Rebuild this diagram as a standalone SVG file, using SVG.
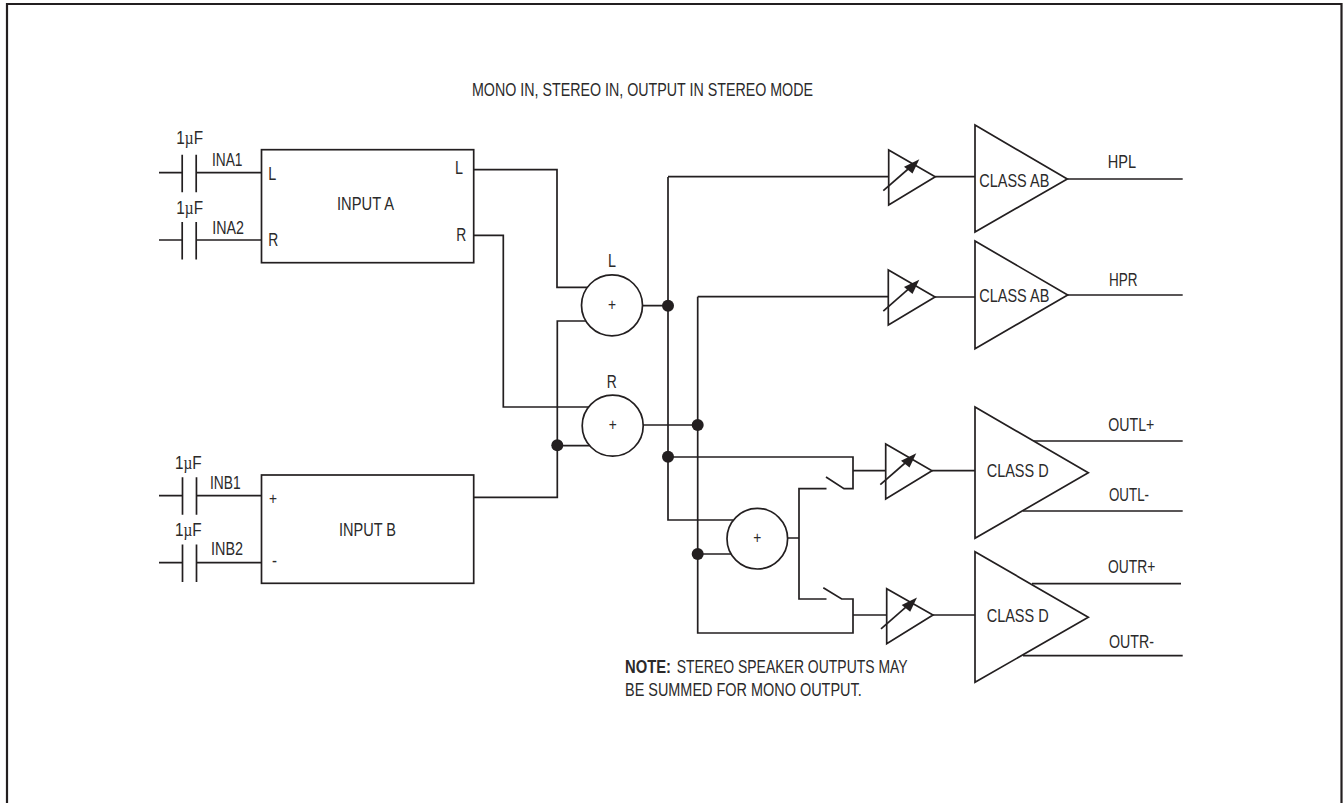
<svg xmlns="http://www.w3.org/2000/svg" width="1343" height="803" viewBox="0 0 1343 803">
<style>
text{font-family:"Liberation Sans",Arial,sans-serif;font-size:18px;fill:#2b2a2a}
.c{font-size:16px}
.w,.s{fill:none;stroke:#231f20;stroke-width:1.7;stroke-linejoin:miter}
.s{fill:#fff}
.d{fill:#231f20;stroke:none}
.p{font-family:"Liberation Serif",serif}
</style>
<defs>
<g id="gain"><path class="d" d="M919.3 159.3L904 166.7L912.5 173.5Z"/><path class="w" d="M883.3 190.7L915 163"/></g>
<g id="cap"><path class="w" d="M182.2 0V37.5M196.2 0V37.5"/></g>
</defs>
<path id="frame" d="M7 803V4H1341.5V803" fill="none" stroke="#231f20" stroke-width="2.2"/>
<g id="title"><text x="472" y="95.5" textLength="341" lengthAdjust="spacingAndGlyphs">MONO IN, STEREO IN, OUTPUT IN STEREO MODE</text></g>
<g id="connectors">
<path class="w" d="M159 172.7H182M196 172.7H261.5M159 240H182M196 240H261.5M159 495.7H182M196 495.7H261.5M159 562.7H182M196 562.7H261.5"/>
<path class="w" d="M473.7 169.7H557V287.3H588M473.7 235.3H503.3V407H591"/>
<path class="w" d="M473.7 497.3H557.3V321H588M557.3 445.7H591"/>
<path class="w" d="M642.5 305.7H668M668 177V520H733M668 176.7H888.7"/>
<path class="w" d="M643 425H697.7M697.7 296.7V633H853V599H841.7L823.3 587.7M697.7 296.7H888.3M697.7 554H731"/>
<path class="w" d="M668 457H853V488.7H844L826 477M853 470.7H885.7"/>
<path class="w" d="M788 538H799M826.5 488.7H799V599H826.5M853 615H886.7"/>
<path class="w" d="M935.3 176.7H975M935 297H975M932 470.7H975M933 615H975"/>
<path class="w" d="M1067.3 179H1182.7M1067.7 295H1182.7M1033 441H1182.7M1023 511H1182.7M1032 583.7H1181M1023 655.7H1182.7"/>
<circle class="d" cx="668" cy="305.7" r="6"/>
<circle class="d" cx="697.7" cy="425" r="6"/>
<circle class="d" cx="557.3" cy="445.3" r="6"/>
<circle class="d" cx="668" cy="456.7" r="6"/>
<circle class="d" cx="697.7" cy="554" r="6"/>
</g>
<g id="cap-ina1"><use href="#cap" y="154.7"/><text x="176.3" y="144" textLength="26.7" lengthAdjust="spacingAndGlyphs">1<tspan class="p">µ</tspan>F</text><text x="212" y="166" textLength="30.5" lengthAdjust="spacingAndGlyphs">INA1</text></g>
<g id="cap-ina2"><use href="#cap" y="222"/><text x="176.3" y="214" textLength="26.7" lengthAdjust="spacingAndGlyphs">1<tspan class="p">µ</tspan>F</text><text x="212.3" y="233.5" textLength="31.7" lengthAdjust="spacingAndGlyphs">INA2</text></g>
<g id="cap-inb1"><use href="#cap" y="477.3" x="0.3"/><text x="175" y="468.5" textLength="26.7" lengthAdjust="spacingAndGlyphs">1<tspan class="p">µ</tspan>F</text><text x="210" y="488.5" textLength="30.7" lengthAdjust="spacingAndGlyphs">INB1</text></g>
<g id="cap-inb2"><use href="#cap" y="544.5" x="0.3"/><text x="175" y="536" textLength="26.7" lengthAdjust="spacingAndGlyphs">1<tspan class="p">µ</tspan>F</text><text x="211" y="554.5" textLength="32" lengthAdjust="spacingAndGlyphs">INB2</text></g>
<g id="input-a"><rect class="s" x="261.5" y="149.7" width="212.2" height="113"/><text x="337" y="209.5" textLength="57" lengthAdjust="spacingAndGlyphs">INPUT A</text><text x="268.3" y="179.5" textLength="8" lengthAdjust="spacingAndGlyphs">L</text><text x="268.3" y="245.5" textLength="10" lengthAdjust="spacingAndGlyphs">R</text><text x="455" y="174" textLength="8" lengthAdjust="spacingAndGlyphs">L</text><text x="456.3" y="241" textLength="10" lengthAdjust="spacingAndGlyphs">R</text></g>
<g id="input-b"><rect class="s" x="261.5" y="475" width="212.2" height="108.3"/><text x="339" y="535.5" textLength="57" lengthAdjust="spacingAndGlyphs">INPUT B</text><text class="c" x="269" y="504" textLength="8" lengthAdjust="spacingAndGlyphs">+</text><text x="272" y="567" textLength="5" lengthAdjust="spacingAndGlyphs">-</text></g>
<g id="sum-l"><circle class="s" cx="612" cy="305.3" r="30.5"/><text class="c" x="608" y="310" textLength="8" lengthAdjust="spacingAndGlyphs">+</text><text x="608" y="266.5" textLength="8" lengthAdjust="spacingAndGlyphs">L</text></g>
<g id="sum-r"><circle class="s" cx="612.7" cy="425.7" r="30.5"/><text class="c" x="608.7" y="430" textLength="8" lengthAdjust="spacingAndGlyphs">+</text><text x="606.7" y="387.5" textLength="10" lengthAdjust="spacingAndGlyphs">R</text></g>
<g id="sum-mono"><circle class="s" cx="757.3" cy="538.7" r="30.3"/><text class="c" x="753.3" y="543" textLength="8" lengthAdjust="spacingAndGlyphs">+</text></g>
<g id="gain-hpl"><path class="s" d="M888.7 150V205L935.3 176.7Z"/><use href="#gain"/></g>
<g id="gain-hpr"><path class="s" d="M888.3 270V325L935 297Z"/><use href="#gain" y="120.4"/></g>
<g id="gain-outl"><path class="s" d="M885.7 444V499L932 470.7Z"/><use href="#gain" x="-3" y="294"/></g>
<g id="gain-outr"><path class="s" d="M886.7 588.7V643.7L933 615Z"/><use href="#gain" x="-2.3" y="438.2"/></g>
<g id="amp-hpl"><path class="s" d="M975 125V232L1067.3 179Z"/><text x="979.3" y="186.5" textLength="70" lengthAdjust="spacingAndGlyphs">CLASS AB</text><text x="1107.7" y="167.5" textLength="28.3" lengthAdjust="spacingAndGlyphs">HPL</text></g>
<g id="amp-hpr"><path class="s" d="M975 241V348.7L1067.7 295Z"/><text x="979.3" y="302" textLength="70" lengthAdjust="spacingAndGlyphs">CLASS AB</text><text x="1109" y="285.5" textLength="28.5" lengthAdjust="spacingAndGlyphs">HPR</text></g>
<g id="amp-outl"><path class="s" d="M975 407V538.3L1088.3 472.7Z"/><text x="986.7" y="476.5" textLength="62" lengthAdjust="spacingAndGlyphs">CLASS D</text><text x="1108.3" y="430.5" textLength="46" lengthAdjust="spacingAndGlyphs">OUTL+</text><text x="1109" y="501" textLength="40" lengthAdjust="spacingAndGlyphs">OUTL-</text></g>
<g id="amp-outr"><path class="s" d="M975 551.7V682.3L1088.3 617.3Z"/><text x="986.7" y="621.5" textLength="62" lengthAdjust="spacingAndGlyphs">CLASS D</text><text x="1108" y="573" textLength="47.3" lengthAdjust="spacingAndGlyphs">OUTR+</text><text x="1109" y="648" textLength="45" lengthAdjust="spacingAndGlyphs">OUTR-</text></g>
<g id="note"><text x="625" y="673" font-weight="700" textLength="46" lengthAdjust="spacingAndGlyphs">NOTE:</text><text x="676.7" y="673" textLength="231" lengthAdjust="spacingAndGlyphs">STEREO SPEAKER OUTPUTS MAY</text><text x="625" y="695.5" textLength="236.7" lengthAdjust="spacingAndGlyphs">BE SUMMED FOR MONO OUTPUT.</text></g>
</svg>
